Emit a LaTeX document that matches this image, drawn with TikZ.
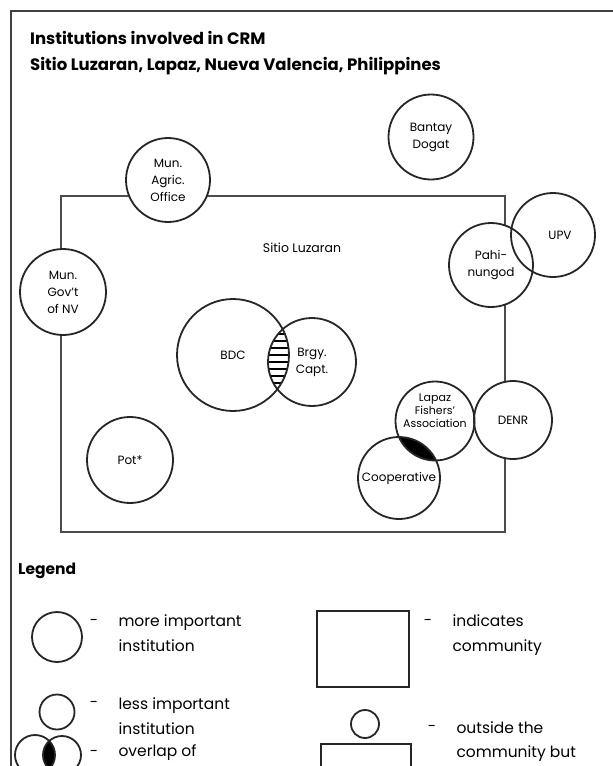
\documentclass[tikz,border=0pt]{standalone}
\usepackage{fontspec}
\setmainfont{Poppins}

\begin{document}
\begin{tikzpicture}[x=1pt, y=-1pt,
        inst/.style={circle, fill=white, inner sep=0pt, align=center, font=\fontsize{12}{17}\selectfont},
        ring/.style={draw=black!85, line width=1.8pt},
        sym/.style={circle, draw=black!85, line width=1.8pt, inner sep=0pt},
        box/.style={draw=black!85, line width=1.8pt, inner sep=0pt},
        legtext/.style={anchor=west, align=left, font=\fontsize{15.5}{25}\selectfont},
        dashmark/.style={font=\fontsize{15}{15}\selectfont, inner sep=0pt}
    ]
        \clip (0,0) rectangle (613,766);
        \fill[white] (0,0) rectangle (613,766);

        % frame and title
        \draw[line width=2.4pt, black!75] (613,11) -- (11,11) -- (11,766);
        \node[anchor=west, inner sep=0pt, font=\fontsize{16.5}{16.5}\bfseries] (title) at (30,38) {Institutions involved in CRM};
        \node[anchor=west, inner sep=0pt, font=\fontsize{16.5}{16.5}\bfseries] (place) at (30,66) {Sitio Luzaran, Lapaz, Nueva Valencia, Philippines};

        % community
        \node[draw=black!70, line width=1.4pt, minimum width=444pt, minimum height=336pt, inner sep=0pt] (sitio) at (283,364) {};
        \node[font=\fontsize{12.5}{12.5}\selectfont] (sitiolbl) at (302,248) {Sitio Luzaran};

        % institutions
        \node[inst, minimum size=84pt] (agric)  at (168,180) {Mun.\\Agric.\\Office};
        \node[inst, minimum size=86pt] (govt)   at (63,292)  {Mun.\\Gov't\\of NV};
        \node[inst, minimum size=85pt] (bantay) at (431,137) {Bantay\\Dogat};
        \node[inst, minimum size=84pt] (pahi)   at (491,265) {Pahi-\\nungod};
        \node[inst, minimum size=84pt] (upv)    at (553,235) {\hspace{14pt}UPV};
        \node[inst, minimum size=112pt] (bdc)   at (233,355) {BDC};
        \node[inst, minimum size=88pt] (capt)   at (312,362) {Brgy.\\Capt.};
        \node[inst, minimum size=86pt] (pot)    at (130,460) {Pot*};
        \node[inst, minimum size=79pt, font=\fontsize{11}{13}\selectfont] (lfa) at (435,421) {Lapaz\\Fishers'\\Association\\[7pt]};
        \node[inst, minimum size=78pt] (denr)   at (513,420) {DENR};
        \node[inst, minimum size=82pt] (coop)   at (399,478) {Cooperative};

        % shared membership
        \begin{scope}
            \clip (bdc.center) circle [radius=56pt];
            \clip (capt.center) circle [radius=44pt];
            \foreach \y in {327,334,...,390}
                \draw[line width=1.6pt] (255,\y) -- (300,\y);
        \end{scope}
        \begin{scope}
            \clip (lfa.center) circle [radius=39.5pt];
            \fill (coop.center) circle [radius=41pt];
        \end{scope}

        \foreach \inst/\rad in {agric/42,govt/43,bantay/42.5,pahi/42,upv/42,bdc/56,capt/44,pot/43,lfa/39.5,denr/39,coop/41}
            \draw[ring] (\inst.center) circle [radius=\rad pt];

        % legend
        \node[anchor=west, inner sep=0pt, font=\fontsize{15.5}{15.5}\bfseries] (legend) at (18,571) {Legend};

        \node[sym, minimum size=50pt] (bigsym) at (57,637) {};
        \node[dashmark] (dash1) at (94,622) {-};
        \node[legtext] (txt1) at (115,633) {more important\\institution};

        \node[sym, minimum size=35pt] (smallsym) at (57,712) {};
        \node[dashmark] (dash2) at (94,704) {-};
        \node[legtext] (txt2) at (115,716) {less important\\institution};

        \begin{scope}
            \clip (35,755) circle [radius=20pt];
            \fill (62,755) circle [radius=19pt];
        \end{scope}
        \node[sym, minimum size=40pt] (ovla) at (35,755) {};
        \node[sym, minimum size=38pt] (ovlb) at (62,755) {};
        \node[dashmark] (dash3) at (94,753) {-};
        \node[legtext] (txt3) at (115,765) {overlap of\\membership};

        \node[box, minimum width=92pt, minimum height=76pt] (commsym) at (363,649) {};
        \node[dashmark] (dash4) at (428,622) {-};
        \node[legtext] (txt4) at (449,635) {indicates\\community};

        \node[sym, minimum size=28pt] (outsym) at (365,724) {};
        \node[box, minimum width=90pt, minimum height=80pt, anchor=north] (outbox) at (366,743) {};
        \node[dashmark] (dash5) at (432,728) {-};
        \node[legtext, font=\fontsize{15.5}{23.5}\selectfont] (txt5) at (453,763) {outside the\\community but\\with some local\\influence};
    \end{tikzpicture}
\end{document}
